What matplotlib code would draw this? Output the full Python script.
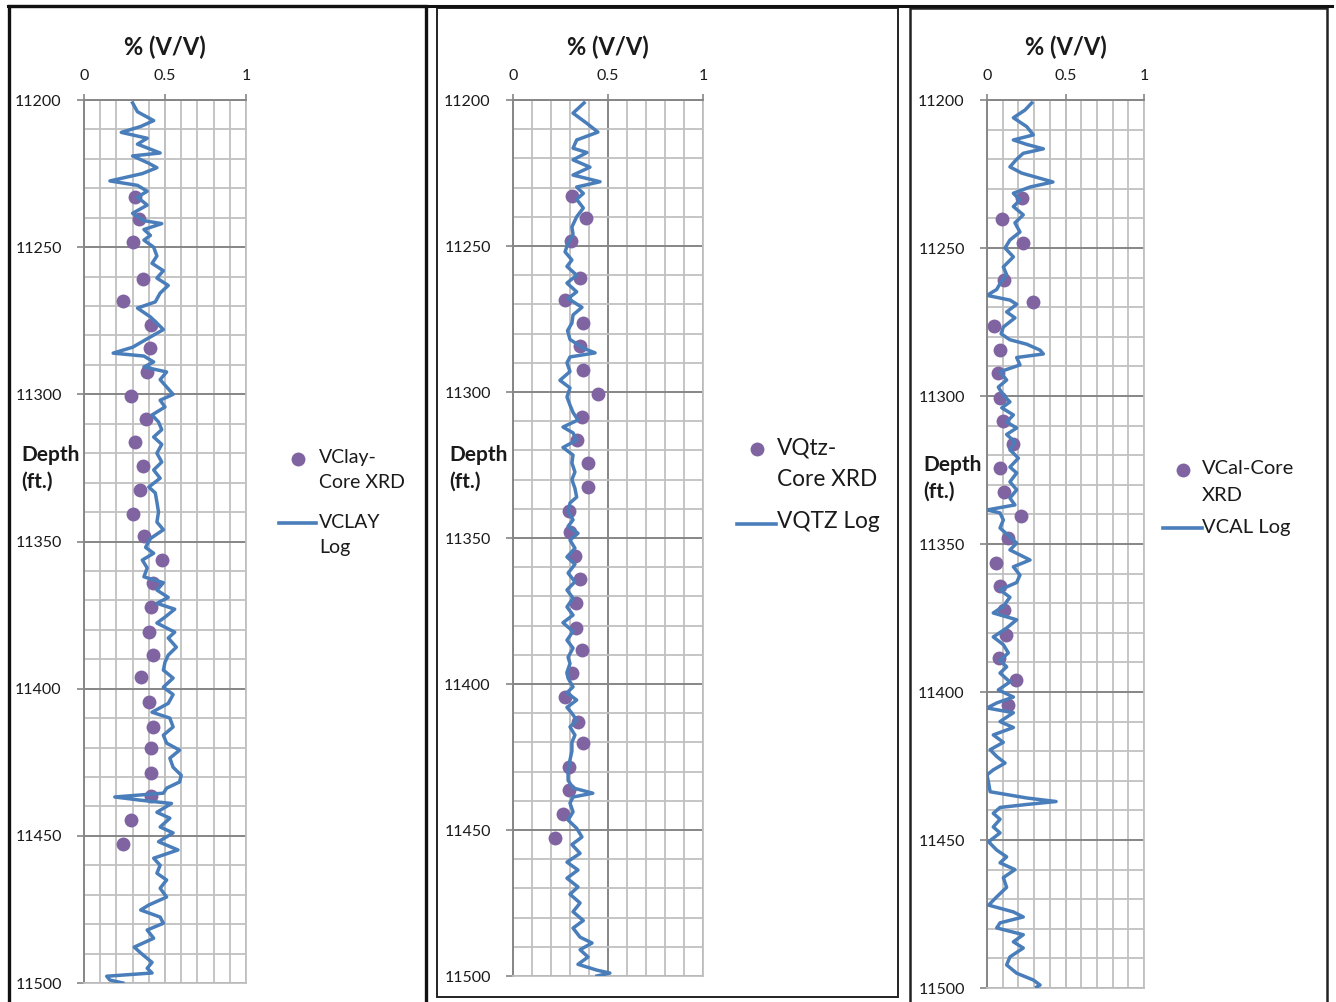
import matplotlib
matplotlib.use("Agg")
import matplotlib.pyplot as plt
from matplotlib.lines import Line2D
from matplotlib.patches import Rectangle
from matplotlib.ticker import MultipleLocator

plt.rcParams['font.family'] = ['Lato', 'DejaVu Sans']

# ---------------------------------------------------------------- data
core_depth = [11233.0, 11240.3, 11248.4, 11260.8, 11268.4, 11276.3, 11284.4,
              11292.3, 11300.6, 11308.4, 11316.3, 11324.3, 11332.4, 11340.6,
              11348.0, 11356.3, 11364.2, 11372.3, 11380.8, 11388.4, 11396.1,
              11404.5, 11412.9, 11420.3, 11428.5, 11436.4, 11444.5, 11452.8]

vclay_core = [0.315, 0.34, 0.30, 0.364, 0.24, 0.414, 0.407, 0.39, 0.29, 0.383,
              0.315, 0.364, 0.346, 0.30, 0.37, 0.48, 0.426, 0.414, 0.40, 0.426,
              0.352, 0.40, 0.426, 0.414, 0.414, 0.414, 0.29, 0.24]

vqtz_core = [0.309, 0.383, 0.304, 0.354, 0.274, 0.37, 0.353, 0.37, 0.449, 0.363,
             0.335, 0.396, 0.395, 0.293, 0.302, 0.326, 0.353, 0.332, 0.33, 0.362,
             0.309, 0.274, 0.344, 0.37, 0.295, 0.295, 0.262, 0.219]

vcal_core = [0.221, 0.094, 0.231, 0.108, 0.293, 0.046, 0.081, 0.068, 0.081, 0.104,
             0.168, 0.081, 0.108, 0.217, 0.136, 0.055, 0.081, 0.110, 0.121, 0.078,
             0.187, 0.136]

vclay_log_depth = [11201, 11204, 11207, 11209, 11211, 11213, 11215, 11218, 11219, 11221.5,
                   11223, 11225, 11227.5, 11229, 11231, 11233, 11235.7, 11238.5, 11241, 11242,
                   11244, 11246, 11247.6, 11250, 11253, 11255.5, 11258, 11260.5, 11263, 11265.6,
                   11268.6, 11270.7, 11273.7, 11275.8, 11278, 11280.5, 11284, 11286, 11287, 11289,
                   11290.7, 11292.4, 11295, 11297.5, 11300, 11302, 11304.3, 11307, 11309.4, 11312,
                   11314.5, 11317, 11320, 11323, 11325.7, 11328.5, 11331.5, 11333.5, 11336.6, 11340,
                   11343.4, 11346, 11349, 11352, 11354, 11356.3, 11359, 11362, 11364, 11366.5,
                   11369, 11371, 11373, 11375.7, 11377.7, 11380.8, 11382.8, 11385.9, 11388.6, 11391,
                   11393.7, 11396.4, 11399.5, 11402, 11405, 11408, 11410, 11413, 11415.8, 11418.5,
                   11420.9, 11423.6, 11426.7, 11429.4, 11431.7, 11433.8, 11435.5, 11436.8, 11437.9, 11439,
                   11442, 11444, 11447, 11449, 11452, 11454.8, 11457.6, 11460, 11462.7, 11465,
                   11467.8, 11470.8, 11473.5, 11475.2, 11477.6, 11479.7, 11482, 11484.8, 11487.8, 11489.8,
                   11493, 11495, 11496.6, 11497.7, 11499, 11500]
vclay_log = [0.30, 0.33, 0.43, 0.35, 0.23, 0.39, 0.33, 0.47, 0.30, 0.40,
             0.45, 0.36, 0.16, 0.33, 0.39, 0.33, 0.39, 0.30, 0.37, 0.48,
             0.37, 0.41, 0.37, 0.43, 0.45, 0.42, 0.49, 0.45, 0.52, 0.47,
             0.44, 0.33, 0.41, 0.45, 0.49, 0.41, 0.30, 0.18, 0.37, 0.43,
             0.37, 0.51, 0.47, 0.51, 0.55, 0.47, 0.50, 0.42, 0.46, 0.48,
             0.43, 0.48, 0.45, 0.48, 0.43, 0.47, 0.40, 0.44, 0.45, 0.46,
             0.45, 0.49, 0.41, 0.38, 0.43, 0.36, 0.39, 0.37, 0.49, 0.45,
             0.52, 0.45, 0.56, 0.50, 0.45, 0.56, 0.52, 0.57, 0.52, 0.50,
             0.49, 0.55, 0.49, 0.55, 0.52, 0.42, 0.53, 0.55, 0.49, 0.51,
             0.59, 0.53, 0.55, 0.60, 0.59, 0.51, 0.49, 0.19, 0.35, 0.54,
             0.45, 0.53, 0.47, 0.55, 0.46, 0.58, 0.43, 0.47, 0.45, 0.51,
             0.47, 0.51, 0.40, 0.35, 0.47, 0.49, 0.39, 0.43, 0.31, 0.35,
             0.42, 0.39, 0.42, 0.14, 0.16, 0.24]

vqtz_log_depth = [11201, 11204.5, 11208, 11211, 11213.7, 11216.5, 11218, 11220.5, 11223, 11225.7,
                  11228, 11229.8, 11232, 11234, 11237, 11240, 11243.5, 11246, 11249, 11252,
                  11254.8, 11257, 11260, 11262.7, 11265.7, 11268, 11271, 11273.6, 11276.4, 11279,
                  11282, 11285, 11286.6, 11288, 11290, 11293, 11296, 11298.6, 11301.7, 11304.5,
                  11307, 11309.6, 11312, 11314, 11316.5, 11319, 11321.6, 11324.3, 11327.4, 11330,
                  11333, 11336, 11338, 11341, 11343.8, 11346, 11348.4, 11350.7, 11353.5, 11356.5,
                  11359, 11362, 11365, 11367.8, 11370.6, 11373.6, 11376.4, 11379, 11382, 11385,
                  11387.7, 11390.8, 11393, 11396, 11398, 11401, 11403, 11405.5, 11408, 11410,
                  11412.4, 11414.7, 11417.5, 11420, 11423, 11426, 11429.5, 11433, 11435.6, 11437.4,
                  11438.7, 11440.8, 11443.8, 11446.6, 11449.4, 11452.4, 11455, 11458, 11461, 11463.7,
                  11466.5, 11469.5, 11472, 11475, 11478, 11481, 11483.6, 11486.7, 11488.7, 11491,
                  11493.5, 11496, 11498, 11499, 11500]
vqtz_log = [0.374, 0.316, 0.389, 0.447, 0.335, 0.316, 0.389, 0.316, 0.405, 0.316,
            0.458, 0.335, 0.37, 0.335, 0.37, 0.335, 0.31, 0.316, 0.29, 0.274,
            0.31, 0.284, 0.335, 0.284, 0.335, 0.29, 0.363, 0.316, 0.31, 0.287,
            0.30, 0.37, 0.432, 0.30, 0.284, 0.30, 0.247, 0.30, 0.284, 0.30,
            0.316, 0.342, 0.263, 0.316, 0.335, 0.263, 0.316, 0.31, 0.326, 0.31,
            0.326, 0.335, 0.30, 0.29, 0.316, 0.29, 0.342, 0.30, 0.326, 0.284,
            0.326, 0.29, 0.326, 0.284, 0.316, 0.284, 0.316, 0.263, 0.316, 0.284,
            0.316, 0.29, 0.30, 0.284, 0.29, 0.316, 0.284, 0.335, 0.284, 0.31,
            0.335, 0.30, 0.326, 0.31, 0.31, 0.30, 0.29, 0.29, 0.316, 0.42,
            0.316, 0.30, 0.316, 0.29, 0.335, 0.363, 0.31, 0.353, 0.284, 0.342,
            0.284, 0.342, 0.30, 0.353, 0.316, 0.37, 0.316, 0.353, 0.416, 0.353,
            0.395, 0.342, 0.442, 0.51, 0.442]

vcal_log_depth = [11201, 11203.4, 11206, 11209, 11211.8, 11213.5, 11215, 11216.5, 11218, 11220,
                  11222.6, 11224.7, 11227.7, 11229.4, 11231.5, 11233.8, 11236, 11238.8, 11241.5, 11244.6,
                  11247.3, 11250, 11253, 11256.4, 11259, 11262, 11264, 11266, 11267.6, 11269,
                  11271.6, 11273.6, 11276.7, 11279, 11281, 11282.5, 11284.5, 11285.8, 11287, 11289.5,
                  11291.8, 11294.6, 11297, 11299.7, 11302, 11304, 11306.4, 11308.8, 11310.8, 11313,
                  11315.5, 11318.2, 11321, 11324, 11326, 11329, 11331.7, 11334.5, 11336.8, 11338.5,
                  11339.5, 11341.9, 11344.6, 11347.6, 11349.7, 11352, 11355.4, 11357.7, 11360.5, 11363,
                  11365.5, 11368, 11371, 11373.3, 11375.6, 11378.4, 11381.4, 11384, 11386.8, 11389.3,
                  11391.5, 11393.6, 11396.6, 11399.3, 11401.7, 11403.7, 11405.4, 11407, 11410, 11412,
                  11414.5, 11417, 11419.5, 11421.8, 11424, 11426.3, 11428, 11430.7, 11433.7, 11435.8,
                  11437, 11438, 11439, 11441, 11443, 11445.6, 11447.6, 11450.6, 11453.4, 11455.7,
                  11457.7, 11460, 11462.7, 11466, 11469.2, 11472, 11474.3, 11476, 11478, 11479.7,
                  11482, 11484.4, 11486.5, 11489.5, 11492.2, 11495, 11497.3, 11499, 11499.7]
vcal_log = [0.285, 0.242, 0.168, 0.253, 0.295, 0.168, 0.253, 0.359, 0.231, 0.189,
            0.146, 0.221, 0.42, 0.274, 0.168, 0.21, 0.168, 0.231, 0.178, 0.21,
            0.146, 0.115, 0.168, 0.104, 0.125, 0.083, 0.062, 0.0, 0.146, 0.189,
            0.125, 0.178, 0.104, 0.09, 0.146, 0.253, 0.338, 0.359, 0.189, 0.21,
            0.083, 0.125, 0.072, 0.104, 0.146, 0.094, 0.168, 0.125, 0.189, 0.125,
            0.178, 0.146, 0.20, 0.146, 0.189, 0.146, 0.189, 0.146, 0.178, 0.0,
            0.083, 0.104, 0.083, 0.146, 0.189, 0.146, 0.274, 0.168, 0.21, 0.189,
            0.083, 0.146, 0.104, 0.04, 0.189, 0.125, 0.04, 0.104, 0.136, 0.083,
            0.125, 0.083, 0.146, 0.072, 0.168, 0.062, 0.0, 0.168, 0.083, 0.168,
            0.04, 0.104, 0.02, 0.062, 0.115, 0.04, 0.0, 0.01, 0.02, 0.253,
            0.44, 0.253, 0.083, 0.04, 0.083, 0.04, 0.083, 0.01, 0.062, 0.125,
            0.083, 0.178, 0.104, 0.125, 0.062, 0.01, 0.168, 0.231, 0.083, 0.062,
            0.231, 0.168, 0.231, 0.146, 0.125, 0.189, 0.295, 0.338, 0.316]

x_ticks = [0, 0.5, 1]
x_tick_labels = ['0', '0.5', '1']
depth_ticks = [11200, 11250, 11300, 11350, 11400, 11450, 11500]

# ---------------------------------------------------------------- style
W, H = 1336, 1002
BLUE = '#4A7EBB'
PURPLE = '#8064A2'
MINOR = '#C0C0C0'
MAJOR = '#868686'
TXT = '#1A1A1A'


def fx(px):
    return px / W


def fy(py):
    return 1 - py / H


fig = plt.figure(figsize=(W / 100, H / 100), dpi=100)
fig.patch.set_facecolor('white')

# page frames around the three tracks
frames = [
    dict(x0=9, y0=6, x1=426, y1=1010, lw=2.4, c='#111111'),
    dict(x0=437, y0=8, x1=898, y1=997, lw=1.4, c='#222222'),
    dict(x0=910, y0=8, x1=1327, y1=1010, lw=1.8, c='#222222'),
]
for f in frames:
    fig.add_artist(Rectangle((fx(f['x0']), fy(f['y1'])), fx(f['x1'] - f['x0']),
                             (f['y1'] - f['y0']) / H, transform=fig.transFigure,
                             fill=False, lw=f['lw'], ec=f['c'], zorder=0))
fig.add_artist(Line2D([fx(8), fx(1332)], [fy(6), fy(6)], transform=fig.transFigure,
                      color='#111111', lw=2.2))

tracks = [
    dict(rect=(84, 100, 246, 983), core_x=vclay_core, core_y=core_depth,
         log_x=vclay_log, log_y=vclay_log_depth, mid_major=False,
         depth_xy=(21, 455, 482), leg_fs=14,
         marker=(298, 459), pt_lines=[('VClay-', 319, 458), ('Core XRD', 319, 483)],
         line=(279, 316, 523), ln_lines=[('VCLAY', 319, 522), ('Log', 319, 548)]),
    dict(rect=(513, 100, 703, 976), core_x=vqtz_core, core_y=core_depth,
         log_x=vqtz_log, log_y=vqtz_log_depth, mid_major=True,
         depth_xy=(449, 455, 482), leg_fs=16.3,
         marker=(757, 449), pt_lines=[('VQtz-', 777, 448), ('Core XRD', 777, 480)],
         line=(737, 776, 524), ln_lines=[('VQTZ Log', 777, 522)]),
    dict(rect=(987, 100, 1144, 988), core_x=vcal_core, core_y=core_depth[:len(vcal_core)],
         log_x=vcal_log, log_y=vcal_log_depth, mid_major=False,
         depth_xy=(923, 465, 492), leg_fs=14.5,
         marker=(1183, 470), pt_lines=[('VCal-Core', 1202, 468), ('XRD', 1202, 495)],
         line=(1163, 1202, 528), ln_lines=[('VCAL Log', 1202, 527)]),
]

for t in tracks:
    l, top, r, b = t['rect']
    ax = fig.add_axes([fx(l), fy(b), fx(r - l), (b - top) / H])
    ax.set_xlim(0, 1)
    ax.set_ylim(11500, 11200)
    ax.set_axisbelow(True)

    ax.xaxis.tick_top()
    ax.set_xticks(x_ticks)
    ax.set_xticklabels(x_tick_labels)
    ax.set_yticks(depth_ticks)
    ax.set_yticklabels([str(d) for d in depth_ticks])
    ax.xaxis.set_minor_locator(MultipleLocator(0.1))
    ax.yaxis.set_minor_locator(MultipleLocator(10))

    ax.grid(which='minor', color=MINOR, lw=1.3)
    ax.grid(which='major', axis='y', color=MAJOR, lw=1.4)
    ax.grid(which='major', axis='x', color=MAJOR if t['mid_major'] else MINOR, lw=1.4)
    ax.tick_params(which='minor', length=0)
    ax.tick_params(axis='y', which='major', length=5, width=1.2, color=MAJOR,
                   labelsize=11.5, labelcolor=TXT, pad=11)
    ax.tick_params(axis='x', which='major', length=4, width=1.2, color=MAJOR,
                   labelsize=11.5, labelcolor=TXT, pad=8)
    for side in ('left', 'top'):
        ax.spines[side].set_color(MAJOR)
        ax.spines[side].set_linewidth(1.4)
    for side in ('right', 'bottom'):
        ax.spines[side].set_color(MINOR)
        ax.spines[side].set_linewidth(1.3)

    ax.plot(t['core_x'], t['core_y'], 'o', color=PURPLE, ms=10, mec='none', zorder=3)
    ax.plot(t['log_x'], t['log_y'], color=BLUE, lw=2.5, zorder=4,
            solid_joinstyle='round', clip_on=True)

    # track title and depth caption
    fig.text(fx((l + r) / 2), fy(47), '% (V/V)', ha='center', va='center',
             fontsize=17, fontweight='bold', color=TXT)
    dx, dy1, dy2 = t['depth_xy']
    fig.text(fx(dx), fy(dy1), 'Depth', ha='left', va='center', fontsize=15,
             fontweight='bold', color=TXT)
    fig.text(fx(dx), fy(dy2), '(ft.)', ha='left', va='center', fontsize=15,
             fontweight='bold', color=TXT)

    # key
    mx, my = t['marker']
    fig.add_artist(Line2D([fx(mx)], [fy(my)], transform=fig.transFigure, ls='none',
                          marker='o', ms=10, color=PURPLE, mec='none'))
    for txt, tx, ty in t['pt_lines']:
        fig.text(fx(tx), fy(ty), txt, ha='left', va='center', fontsize=t['leg_fs'], color=TXT)
    x0, x1, ly = t['line']
    fig.add_artist(Line2D([fx(x0), fx(x1)], [fy(ly), fy(ly)], transform=fig.transFigure,
                          color=BLUE, lw=2.6))
    for txt, tx, ty in t['ln_lines']:
        fig.text(fx(tx), fy(ty), txt, ha='left', va='center', fontsize=t['leg_fs'], color=TXT)

fig.savefig('out.png', dpi=100, facecolor='white')
